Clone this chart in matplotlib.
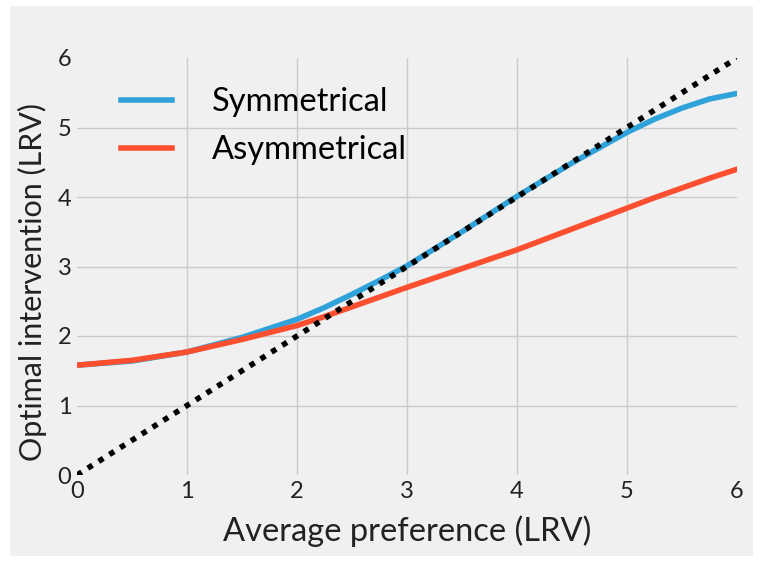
import matplotlib
matplotlib.use("Agg")
import matplotlib.pyplot as plt
from matplotlib.patches import Rectangle
import numpy as np

# values
pref = [0, 0.5, 1, 1.5, 2, 2.25, 2.5, 2.75, 3, 3.5, 4, 4.5, 5, 5.25, 5.5, 5.75, 6]
symmetrical = [1.58, 1.64, 1.77, 1.98, 2.24, 2.41, 2.6, 2.8, 3.01, 3.5, 4.01, 4.49, 4.93,
               5.12, 5.28, 5.41, 5.49]
asymmetrical = [1.58, 1.65, 1.77, 1.95, 2.15, 2.28, 2.42, 2.56, 2.7, 2.97, 3.24, 3.54, 3.84,
                3.99, 4.13, 4.27, 4.4]
diag = [0, 6]
ticks = [0, 1, 2, 3, 4, 5, 6]

plt.rcParams["font.family"] = ["Lato", "DejaVu Sans"]

fig = plt.figure(figsize=(7.63, 5.66), dpi=100, facecolor="white")
fig.patches.append(Rectangle((10 / 763, 10 / 566), 743 / 763, 550 / 566,
                             transform=fig.transFigure, facecolor="#f0f0f0",
                             edgecolor="none", zorder=-10))
ax = fig.add_axes([77 / 763, 1 - 475 / 566, 660 / 763, 417 / 566])
ax.set_facecolor("#f0f0f0")

ax.plot(pref, symmetrical, color="#30a2da", lw=4, label="Symmetrical", zorder=3)
ax.plot(pref, asymmetrical, color="#fc4f30", lw=4, label="Asymmetrical", zorder=3)
ax.plot(diag, diag, color="black", lw=4, linestyle=(0, (1, 1.3)), zorder=4)

ax.set_xlim(0, 6)
ax.set_ylim(0, 6)
ax.set_xticks(ticks)
ax.set_yticks(ticks)
ax.tick_params(length=0, labelsize=17, pad=4, colors="#222222")
for s in ax.spines.values():
    s.set_visible(False)
for v in ticks[1:-1]:
    ax.axvline(v, color="#cbcbcb", lw=1, zorder=1)
    ax.axhline(v, color="#cbcbcb", lw=1, zorder=1)

ax.set_xlabel("Average preference (LRV)", fontsize=23.5, color="#222222", labelpad=10)
ax.set_ylabel("Optimal intervention (LRV)", fontsize=22, color="#222222")
ax.yaxis.set_label_coords(-0.046, 0.463)

leg = ax.legend(loc="upper left", bbox_to_anchor=(0.067, 0.93), frameon=False,
                borderpad=0, borderaxespad=0,
                fontsize=23.5, handlelength=1.56, handletextpad=1.23, labelspacing=0.55)

fig.savefig("out.png", dpi=100, facecolor="white")
